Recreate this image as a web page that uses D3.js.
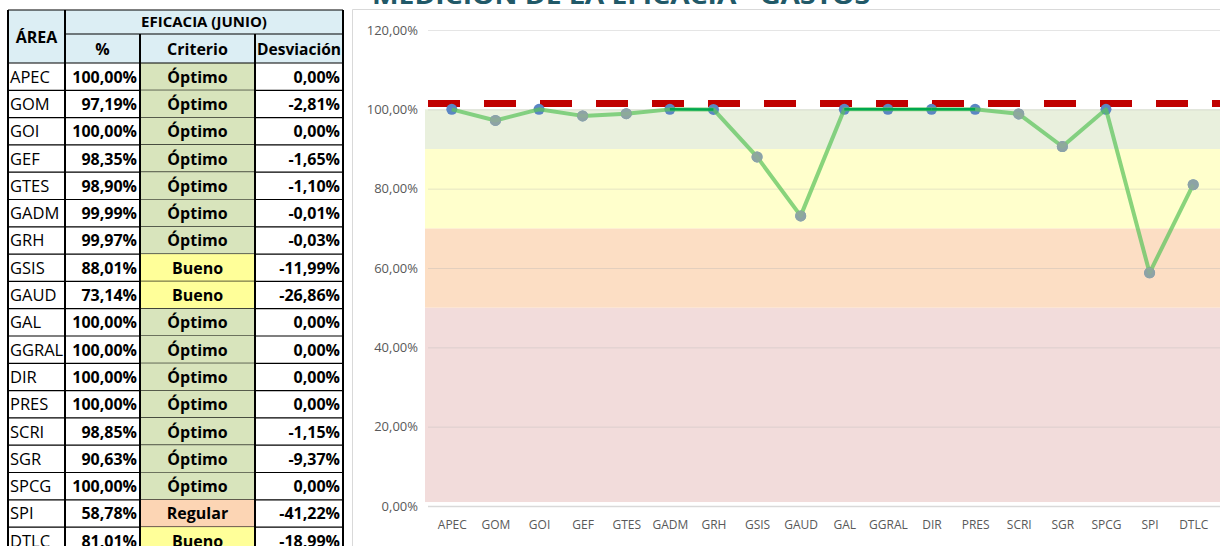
<!DOCTYPE html>
<html>
<head>
<meta charset="utf-8">
<script src="https://cdn.jsdelivr.net/npm/d3@7"></script>
<style>
  body { margin: 0; background: #fff; }
  svg { display: block; font-family: "Open Sans", sans-serif; }
</style>
</head>
<body>
<div id="chart"></div>
<script>
// data
const areas = ["APEC", "GOM", "GOI", "GEF", "GTES", "GADM", "GRH", "GSIS", "GAUD", "GAL", "GGRAL", "DIR", "PRES", "SCRI", "SGR", "SPCG", "SPI", "DTLC"];
const eficacia = [100, 97.19, 100, 98.35, 98.90, 99.99, 99.97, 88.01, 73.14, 100, 100, 100, 100, 98.85, 90.63, 100, 58.78, 81.01];
const criterio = ["Óptimo", "Óptimo", "Óptimo", "Óptimo", "Óptimo", "Óptimo", "Óptimo", "Bueno", "Bueno", "Óptimo", "Óptimo", "Óptimo", "Óptimo", "Óptimo", "Óptimo", "Óptimo", "Regular", "Bueno"];
const desviacion = [0, -2.81, 0, -1.65, -1.10, -0.01, -0.03, -11.99, -26.86, 0, 0, 0, 0, -1.15, -9.37, 0, -41.22, -18.99];
const yTicks = [0, 20, 40, 60, 80, 100, 120];
const bandLimits = [[1, 50], [50, 70], [70, 90], [90, 100]];
const meta = 101.5;

const bandColors = ["#f2dcdb", "#fcdec4", "#ffffcc", "#e9f0dd"];
const critColors = { "Óptimo": "#d8e4bc", "Bueno": "#ffff99", "Regular": "#fcd5b4" };

const W = 1220, H = 546;
const fmt = v => v.toFixed(2).replace(".", ",") + "%";

const svg = d3.select("#chart").append("svg")
    .attr("width", W)
    .attr("height", H);

// ---------- table ----------
const cols = [8, 65, 140, 255, 343];
const headTop = 10, headMid = 34, rowTop = 63, rowH = 27.3;
const table = svg.append("g");

table.append("rect")
    .attr("x", cols[0]).attr("y", headTop)
    .attr("width", cols[4] - cols[0]).attr("height", rowTop - headTop)
    .attr("fill", "#dceef4");

const rows = areas.map((a, i) => ({ area: a, val: eficacia[i], crit: criterio[i], desv: desviacion[i], i }));

const row = table.selectAll(".row")
    .data(rows)
    .enter()
    .append("g")
    .attr("class", "row")
    .attr("transform", d => `translate(0,${rowTop + d.i * rowH})`);

row.append("rect")
    .attr("x", cols[2]).attr("y", 0)
    .attr("width", cols[3] - cols[2]).attr("height", rowH)
    .attr("fill", d => critColors[d.crit]);

row.append("line")
    .attr("x1", cols[0]).attr("x2", cols[4])
    .attr("y1", rowH).attr("y2", rowH)
    .attr("stroke", "#000").attr("stroke-width", 1.2);

row.append("text")
    .attr("x", cols[0] + 2).attr("y", rowH / 2 + 6)
    .style("font-size", "16.5px").attr("fill", "#000")
    .text(d => d.area);

row.append("text")
    .attr("x", cols[2] - 3).attr("y", rowH / 2 + 6)
    .attr("text-anchor", "end")
    .style("font-size", "16px").style("font-weight", "bold")
    .text(d => fmt(d.val));

row.append("text")
    .attr("x", (cols[2] + cols[3]) / 2).attr("y", rowH / 2 + 6)
    .attr("text-anchor", "middle")
    .style("font-size", "16px").style("font-weight", "bold")
    .text(d => d.crit);

row.append("text")
    .attr("x", cols[4] - 3).attr("y", rowH / 2 + 6)
    .attr("text-anchor", "end")
    .style("font-size", "16px").style("font-weight", "bold")
    .text(d => fmt(d.desv));

// header lines + text
const hl = [
    [cols[0], headTop, cols[4], headTop],
    [cols[1], headMid, cols[4], headMid],
    [cols[0], rowTop, cols[4], rowTop]
];
table.selectAll(".hline").data(hl).enter().append("line")
    .attr("x1", d => d[0]).attr("y1", d => d[1]).attr("x2", d => d[2]).attr("y2", d => d[3])
    .attr("stroke", "#000").attr("stroke-width", 1.2);

// vertical borders
cols.forEach((c, i) => {
    table.append("line")
        .attr("x1", c).attr("x2", c)
        .attr("y1", (i === 2 || i === 3) ? headMid : headTop).attr("y2", H)
        .attr("stroke", "#000").attr("stroke-width", 2);
});

table.append("text")
    .attr("x", (cols[0] + cols[1]) / 2).attr("y", 43)
    .attr("text-anchor", "middle")
    .style("font-size", "16px").style("font-weight", "bold")
    .text("ÁREA");
table.append("text")
    .attr("x", (cols[1] + cols[4]) / 2).attr("y", 27)
    .attr("text-anchor", "middle")
    .style("font-size", "15px").style("font-weight", "bold")
    .text("EFICACIA (JUNIO)");
const subHeads = ["%", "Criterio", "Desviación"];
subHeads.forEach((s, i) => {
    const t = table.append("text")
        .attr("x", (cols[i + 1] + cols[i + 2]) / 2).attr("y", 55)
        .attr("text-anchor", "middle")
        .style("font-size", "16px").style("font-weight", "bold")
        .text(s);
    if (s === "Desviación") t.attr("textLength", 84).attr("lengthAdjust", "spacingAndGlyphs");
});

// ---------- chart ----------
const chart = svg.append("g");

chart.append("path")
    .attr("d", `M352.5,${H}V9.5H${W}`)
    .attr("fill", "none").attr("stroke", "#d9d9d9");

chart.append("text")
    .attr("x", 621).attr("y", 4)
    .attr("text-anchor", "middle")
    .attr("textLength", 498).attr("lengthAdjust", "spacingAndGlyphs")
    .style("font-size", "24px").style("font-weight", "bold")
    .attr("fill", "#215968")
    .text("MEDICIÓN DE LA EFICACIA - GASTOS");

const x = d3.scalePoint().domain(areas).range([430, 1215]).padding(0.5);
const y = d3.scaleLinear().domain([0, 120]).range([506, 30]);

// bands
chart.selectAll(".band")
    .data(bandLimits)
    .enter()
    .append("rect")
    .attr("x", 425).attr("width", W - 425)
    .attr("y", d => y(d[1]))
    .attr("height", d => y(d[0]) - y(d[1]))
    .attr("fill", (d, i) => bandColors[i]);

// gridlines + y axis
const yAxis = chart.append("g")
    .attr("transform", "translate(428,0)")
    .call(d3.axisLeft(y).tickValues(yTicks).tickSize(-(W - 428)).tickFormat(d => fmt(d)).tickPadding(10));
yAxis.select(".domain").remove();
yAxis.selectAll(".tick line").attr("stroke", d => d === 0 ? "#d9d9d9" : "rgba(180,180,180,0.35)").attr("stroke-width", d => d === 0 ? 1.5 : 1);
yAxis.selectAll(".tick text").attr("fill", "#595959").style("font-size", "13px").style("font-family", "Open Sans");

// x axis labels
const xAxis = chart.append("g")
    .attr("transform", "translate(0,506)")
    .call(d3.axisBottom(x).tickSize(0).tickPadding(14));
xAxis.select(".domain").remove();
xAxis.selectAll(".tick text").attr("fill", "#595959").style("font-size", "12px").style("font-family", "Open Sans");

// target dashed line
chart.append("line")
    .attr("x1", 428).attr("x2", W)
    .attr("y1", y(meta)).attr("y2", y(meta))
    .attr("stroke", "#c00000").attr("stroke-width", 7)
    .attr("stroke-dasharray", "32 24");

const pts = areas.map((a, i) => ({ a, v: eficacia[i] }));

// markers under the line
chart.selectAll(".mk")
    .data(pts)
    .enter()
    .append("circle")
    .attr("cx", d => x(d.a)).attr("cy", d => y(d.v))
    .attr("r", 5.5)
    .attr("fill", "#5b86c4");

const line = d3.line().x(d => x(d.a)).y(d => y(d.v));
chart.append("path")
    .datum(pts)
    .attr("d", line)
    .attr("fill", "none")
    .attr("stroke", "rgba(92,196,92,0.72)")
    .attr("stroke-width", 4)
    .attr("stroke-linejoin", "round");

// darker segments where the line stays at the top
const topSegs = pts.map((p, i) => [p, pts[i + 1]]).filter(s => s[1] && s[0].v >= 99.9 && s[1].v >= 99.9);
chart.selectAll(".seg")
    .data(topSegs)
    .enter()
    .append("path")
    .attr("d", d => line(d))
    .attr("stroke", "#00a84f").attr("stroke-width", 2.5).attr("fill", "none");

chart.selectAll(".mk2")
    .data(pts.filter(p => p.v < 99.9))
    .enter()
    .append("circle")
    .attr("cx", d => x(d.a)).attr("cy", d => y(d.v))
    .attr("r", 5.5)
    .attr("fill", "rgba(150,168,160,0.85)");
</script>
</body>
</html>
